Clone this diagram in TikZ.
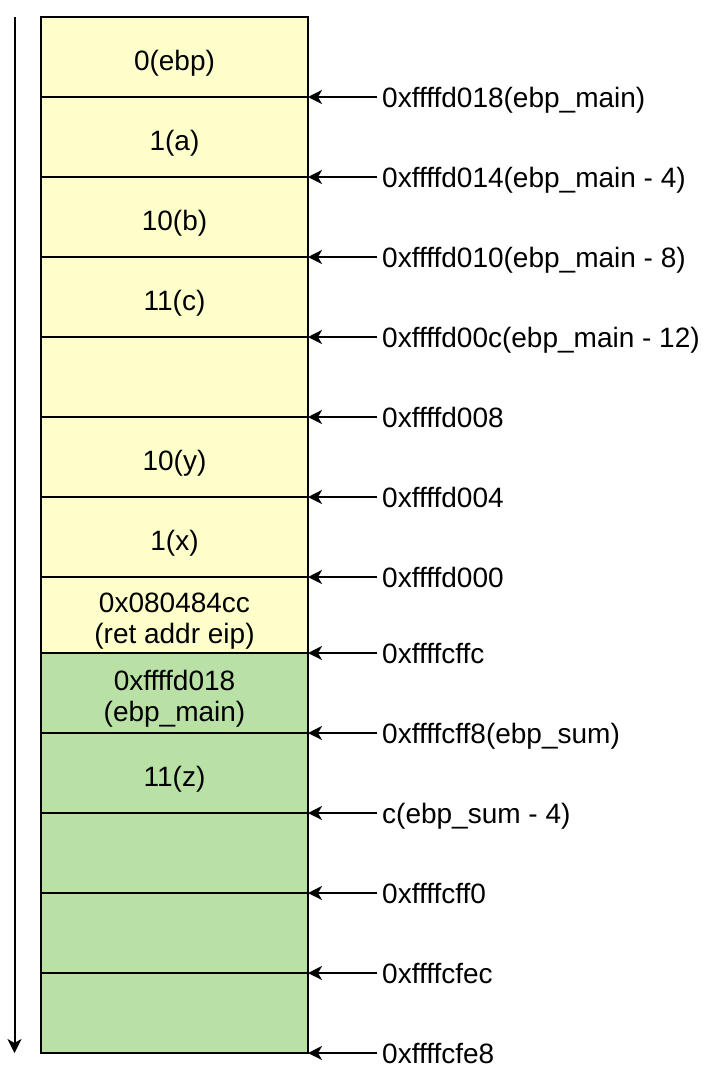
\documentclass[tikz,border=0pt]{standalone}
\usepackage{fontspec}
\setmainfont{Liberation Sans}
\usetikzlibrary{positioning,arrows.meta}
\definecolor{stackyellow}{HTML}{FFFFCC}
\definecolor{stackgreen}{HTML}{B9E0A5}
\tikzset{
 cell/.style={draw,line width=2.2pt,outer sep=0pt,inner sep=0pt,minimum width=267pt,minimum height=80pt,
   font=\fontsize{28}{31}\selectfont,text height=27pt,text depth=0pt},
 twoline/.style={align=center,text height=56pt,text depth=0pt},
 addr/.style={inner xsep=5pt,inner ysep=0pt,font=\fontsize{28}{31}\selectfont,text height=20pt,text depth=0pt},
 ptr/.style={-{Stealth[length=14pt,width=14pt,inset=4pt]},line width=2pt}
}
\begin{document}
\begin{tikzpicture}[x=1pt,y=-1pt]
 \useasboundingbox (0,0) rectangle (720,1074);
 % stack cells, top to bottom
 \node[cell,fill=stackyellow] (r1) at (174.5,57) {0(ebp)};
 \node[cell,fill=stackyellow,below=0pt of r1] (r2) {1(a)};
 \node[cell,fill=stackyellow,below=0pt of r2] (r3) {10(b)};
 \node[cell,fill=stackyellow,below=0pt of r3] (r4) {11(c)};
 \node[cell,fill=stackyellow,below=0pt of r4] (r5) {};
 \node[cell,fill=stackyellow,below=0pt of r5] (r6) {10(y)};
 \node[cell,fill=stackyellow,below=0pt of r6] (r7) {1(x)};
 \node[cell,twoline,fill=stackyellow,minimum height=76pt,below=0pt of r7] (r8) {0x080484cc\\(ret addr eip)};
 \node[cell,twoline,fill=stackgreen,below=0pt of r8] (r9) {0xffffd018\\(ebp\_main)};
 \node[cell,fill=stackgreen,below=0pt of r9] (r10) {11(z)};
 \node[cell,fill=stackgreen,below=0pt of r10] (r11) {};
 \node[cell,fill=stackgreen,below=0pt of r11] (r12) {};
 \node[cell,fill=stackgreen,below=0pt of r12] (r13) {};
 % addresses
 \foreach \i/\addr in {1/0xffffd018(ebp\_main),2/0xffffd014(ebp\_main - 4),3/0xffffd010(ebp\_main - 8),
   4/0xffffd00c(ebp\_main - 12),5/0xffffd008,6/0xffffd004,7/0xffffd000,8/0xffffcffc,
   9/0xffffcff8(ebp\_sum),10/c(ebp\_sum - 4),11/0xffffcff0,12/0xffffcfec,13/0xffffcfe8}{
  \node[addr,right=69pt of r\i.south east] (a\i) {\addr};
  \draw[ptr] (a\i.west) -- (r\i.south east);
 }
 % growth direction
 \coordinate (gtop) at (14.5,17);
 \coordinate (gbot) at (14.5,1053);
 \draw[ptr] (gtop) -- (gbot);
\end{tikzpicture}
\end{document}
